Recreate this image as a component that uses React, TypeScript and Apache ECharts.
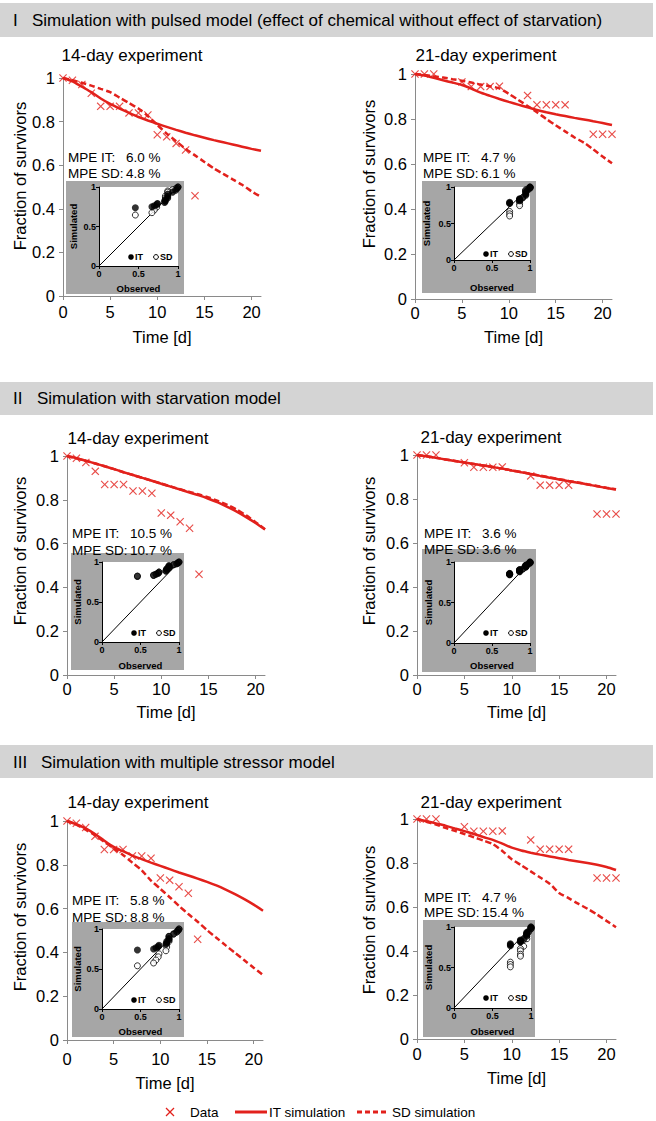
import { useEffect, useRef } from "react";
import * as echarts from "echarts";

const FONT = '"Liberation Sans", Arial, Helvetica, sans-serif';
const RED = "#e2211c";
const AXIS = "#8a8a8a";
const BAND = "#d4d4d4";
const INSET_BG = "#a6a6a6";

// ---------- data ----------
const DAYS = [0, 1, 2, 3, 4, 5, 6, 7, 8, 9, 10, 11, 12, 13, 14, 15, 16, 17, 18, 19, 20, 21];

const T14 = [0, 1, 2, 3, 4, 5, 6, 7, 8, 9, 10, 11, 12, 13, 14];
const OBS14 = [1.0, 0.99, 0.97, 0.93, 0.87, 0.87, 0.87, 0.84, 0.84, 0.83, 0.74, 0.73, 0.7, 0.67, 0.46];

const T21 = [0, 1, 2, 5, 6, 7, 8, 9, 12, 13, 14, 15, 16, 19, 20, 21];
const OBS21 = [1.0, 1.0, 1.0, 0.965, 0.944, 0.944, 0.944, 0.946, 0.905, 0.863, 0.863, 0.863, 0.863, 0.732, 0.732, 0.732];

// I: pulsed model
const IT_I_14 = [1.0, 0.985, 0.96, 0.935, 0.906, 0.881, 0.86, 0.84, 0.821, 0.805, 0.79, 0.776, 0.762, 0.749, 0.737, 0.726, 0.715, 0.705, 0.695, 0.685, 0.675, 0.666];
const SD_I_14 = [1.0, 0.99, 0.978, 0.965, 0.95, 0.935, 0.91, 0.885, 0.86, 0.825, 0.785, 0.745, 0.71, 0.675, 0.645, 0.615, 0.585, 0.56, 0.535, 0.51, 0.48, 0.455];
const IT_I_21 = [1.0, 0.993, 0.983, 0.972, 0.962, 0.951, 0.935, 0.917, 0.903, 0.889, 0.876, 0.864, 0.852, 0.84, 0.83, 0.821, 0.813, 0.805, 0.798, 0.79, 0.782, 0.773];
const SD_I_21 = [1.0, 0.996, 0.99, 0.984, 0.977, 0.97, 0.962, 0.953, 0.946, 0.936, 0.912, 0.885, 0.858, 0.83, 0.8, 0.772, 0.745, 0.718, 0.695, 0.665, 0.633, 0.603];

// II: starvation model
const IT_II_14 = [1.0, 0.99, 0.978, 0.966, 0.953, 0.94, 0.926, 0.913, 0.9, 0.887, 0.873, 0.86, 0.847, 0.833, 0.82, 0.805, 0.788, 0.768, 0.746, 0.721, 0.694, 0.664];
const SD_II_14 = [1.0, 0.99, 0.978, 0.966, 0.953, 0.94, 0.926, 0.913, 0.9, 0.887, 0.874, 0.861, 0.848, 0.836, 0.824, 0.811, 0.795, 0.777, 0.755, 0.729, 0.698, 0.666];
const IT_II_21 = [1.0, 0.994, 0.987, 0.98, 0.973, 0.966, 0.959, 0.952, 0.945, 0.938, 0.93, 0.922, 0.914, 0.905, 0.897, 0.889, 0.881, 0.874, 0.866, 0.858, 0.85, 0.843];
const SD_II_21 = [1.0, 0.994, 0.987, 0.98, 0.973, 0.966, 0.959, 0.952, 0.945, 0.938, 0.93, 0.922, 0.914, 0.906, 0.898, 0.89, 0.882, 0.875, 0.867, 0.859, 0.851, 0.844];

// III: multiple stressor model
const IT_III_14 = [1.0, 0.985, 0.966, 0.94, 0.91, 0.882, 0.862, 0.842, 0.826, 0.81, 0.795, 0.78, 0.765, 0.751, 0.737, 0.722, 0.706, 0.687, 0.666, 0.643, 0.618, 0.59];
const SD_III_14 = [1.0, 0.983, 0.96, 0.935, 0.905, 0.875, 0.845, 0.81, 0.775, 0.728, 0.69, 0.652, 0.612, 0.575, 0.54, 0.502, 0.467, 0.432, 0.398, 0.364, 0.33, 0.297];
const IT_III_21 = [1.0, 0.99, 0.98, 0.97, 0.957, 0.945, 0.932, 0.918, 0.905, 0.888, 0.87, 0.857, 0.847, 0.838, 0.83, 0.822, 0.814, 0.807, 0.8, 0.792, 0.782, 0.768];
const SD_III_21 = [1.0, 0.987, 0.975, 0.96, 0.946, 0.932, 0.917, 0.902, 0.886, 0.855, 0.817, 0.79, 0.762, 0.734, 0.706, 0.664, 0.64, 0.615, 0.592, 0.566, 0.537, 0.508];

const SECTION_NUMERALS = ["I", "II", "III"];
const SECTION_TITLES = [
  "Simulation with pulsed model (effect of chemical without effect of starvation)",
  "Simulation with starvation model",
  "Simulation with multiple stressor model",
];
const EXPERIMENT_TITLES = ["14-day experiment", "21-day experiment", "14-day experiment", "21-day experiment", "14-day experiment", "21-day experiment"];
const MPE_IT = ["6.0 %", "4.7 %", "10.5 %", "3.6 %", "5.8 %", "4.7 %"];
const MPE_SD = ["4.8 %", "6.1 %", "10.7 %", "3.6 %", "8.8 %", "15.4 %"];
const X_TICKS = [0, 5, 10, 15, 20];
const DIAGONAL = [[0, 0], [1, 1]];

const PANEL_DATA = [
  { t: T14, obs: OBS14, it: IT_I_14, sd: SD_I_14 },
  { t: T21, obs: OBS21, it: IT_I_21, sd: SD_I_21 },
  { t: T14, obs: OBS14, it: IT_II_14, sd: SD_II_14 },
  { t: T21, obs: OBS21, it: IT_II_21, sd: SD_II_21 },
  { t: T14, obs: OBS14, it: IT_III_14, sd: SD_III_14 },
  { t: T21, obs: OBS21, it: IT_III_21, sd: SD_III_21 },
];

// ---------- layout ----------
const SECTION_LAYOUT = [
  { band: [0, 3, 653, 34], textY: 20, numX: 13, titleX: 32 },
  { band: [0, 382, 653, 33], textY: 398, numX: 13, titleX: 37 },
  { band: [0, 745, 653, 33], textY: 762, numX: 13, titleX: 41 },
];

const PANEL_LAYOUT = [
  { grid: [63, 78, 198, 218], xLabelMargin: 7, xNameGap: 32, yName: [20, 176], title: [132, 55], mpe: [68, 157, 173], box: [66, 181, 118, 113], inset: [99, 187, 79, 79], legDy: 9, obsGap: 17, simGap: 21 },
  { grid: [415, 74, 197, 225], xLabelMargin: 5, xNameGap: 29, yName: [369, 174], title: [486, 55], mpe: [423, 157, 173], box: [422, 181, 114, 112], inset: [454, 187, 76, 73], legDy: 6, obsGap: 22, simGap: 23 },
  { grid: [67, 456, 198, 219], xLabelMargin: 5, xNameGap: 28, yName: [20, 551], title: [138, 438], mpe: [72, 533, 550], box: [71, 553, 113, 117], inset: [102, 562, 77, 80], legDy: 9, obsGap: 18, simGap: 20 },
  { grid: [417, 455, 199, 220], xLabelMargin: 5, xNameGap: 28, yName: [369, 551], title: [491, 437], mpe: [424, 533, 549], box: [422, 549, 114, 123], inset: [454, 562, 76, 81], legDy: 10, obsGap: 17, simGap: 21 },
  { grid: [67, 821, 196, 219], xLabelMargin: 10, xNameGap: 34, yName: [20, 917], title: [138, 802], mpe: [72, 900, 917], box: [72, 922, 112, 115], inset: [102, 929, 77, 80], legDy: 9, obsGap: 17, simGap: 20 },
  { grid: [417, 819, 199, 220], xLabelMargin: 6, xNameGap: 30, yName: [369, 920], title: [491, 802], mpe: [424, 897, 912], box: [423, 920, 112, 117], inset: [454, 927, 77, 81], legDy: 10, obsGap: 18, simGap: 21 },
];

const X_PATH = "path://M0,1L1,0L5,4L9,0L10,1L6,5L10,9L9,10L5,6L1,10L0,9L4,5Z";

function txt(s: string, x: number, y: number, size: number, align = "left", weight = "normal", extra: any = {}) {
  return {
    type: "text",
    x,
    y,
    z: 20,
    silent: true,
    ...extra,
    style: {
      text: s,
      fontSize: size,
      fontFamily: FONT,
      fontWeight: weight,
      fill: "#000",
      align,
      verticalAlign: "middle",
      textAlign: align,
      textVerticalAlign: "middle",
    },
  };
}

function buildOption() {
  const grid: any[] = [];
  const xAxis: any[] = [];
  const yAxis: any[] = [];
  const series: any[] = [];
  const graphic: any[] = [];

  SECTION_LAYOUT.forEach((s, i) => {
    graphic.push({
      type: "rect",
      z: 0,
      silent: true,
      shape: { x: s.band[0], y: s.band[1], width: s.band[2], height: s.band[3] },
      style: { fill: BAND },
    });
    graphic.push(txt(SECTION_NUMERALS[i], s.numX, s.textY, 17));
    graphic.push(txt(SECTION_TITLES[i], s.titleX, s.textY, 17));
  });

  PANEL_LAYOUT.forEach((L, i) => {
    const D = PANEL_DATA[i];

    // main plot
    const main = grid.length;
    grid.push({ left: L.grid[0], top: L.grid[1], width: L.grid[2], height: L.grid[3] });
    xAxis.push({
      gridIndex: main,
      type: "value",
      min: 0,
      max: 21,
      interval: 5,
      name: "Time [d]",
      nameLocation: "middle",
      nameGap: L.xNameGap,
      nameTextStyle: { fontSize: 16.5, color: "#000", fontFamily: FONT },
      axisLine: { show: true, lineStyle: { color: AXIS, width: 1 } },
      axisTick: { show: true, length: 4, customValues: X_TICKS, lineStyle: { color: AXIS } },
      axisLabel: { customValues: X_TICKS, fontSize: 16.5, color: "#000", margin: L.xLabelMargin, fontFamily: FONT },
      splitLine: { show: false },
    });
    yAxis.push({
      gridIndex: main,
      type: "value",
      min: 0,
      max: 1,
      interval: 0.2,
      axisLine: { show: true, lineStyle: { color: AXIS, width: 1 } },
      axisTick: { show: true, length: 4, lineStyle: { color: AXIS } },
      axisLabel: { fontSize: 16.5, color: "#000", margin: 8, fontFamily: FONT },
      splitLine: { show: false },
    });
    series.push({
      type: "line",
      name: "IT simulation",
      xAxisIndex: main,
      yAxisIndex: main,
      data: DAYS.map((d, k) => [d, D.it[k]]),
      symbol: "none",
      showSymbol: false,
      smooth: 0.25,
      lineStyle: { color: RED, width: 2.5 },
      itemStyle: { color: RED },
      z: 3,
    });
    series.push({
      type: "line",
      name: "SD simulation",
      xAxisIndex: main,
      yAxisIndex: main,
      data: DAYS.map((d, k) => [d, D.sd[k]]),
      symbol: "none",
      showSymbol: false,
      smooth: 0.25,
      lineStyle: { color: RED, width: 2.5, type: [6, 3] },
      itemStyle: { color: RED },
      z: 3,
    });
    series.push({
      type: "scatter",
      name: "Data",
      xAxisIndex: main,
      yAxisIndex: main,
      data: D.t.map((d, k) => [d, D.obs[k]]),
      symbol: X_PATH,
      symbolSize: 8,
      itemStyle: { color: RED },
      z: 4,
    });

    // inset box
    graphic.push({
      type: "rect",
      z: 5,
      silent: true,
      shape: { x: L.box[0], y: L.box[1], width: L.box[2], height: L.box[3] },
      style: { fill: INSET_BG },
    });

    // inset plot
    const ins = grid.length;
    grid.push({
      left: L.inset[0],
      top: L.inset[1],
      width: L.inset[2],
      height: L.inset[3],
      show: true,
      backgroundColor: "#fff",
      borderWidth: 0,
      z: 6,
    });
    const insetAxis = (name: string, gap: number) => ({
      gridIndex: ins,
      type: "value",
      min: 0,
      max: 1,
      interval: 0.5,
      z: 7,
      name,
      nameLocation: "middle",
      nameGap: gap,
      nameTextStyle: { fontSize: 9.5, fontWeight: "bold", color: "#000", fontFamily: FONT },
      axisLine: { show: true, lineStyle: { color: "#000", width: 1 } },
      axisTick: { show: true, length: 3, lineStyle: { color: "#000" } },
      axisLabel: { fontSize: 9, fontWeight: "bold", color: "#000", margin: 3, fontFamily: FONT },
      splitLine: { show: false },
    });
    xAxis.push(insetAxis("Observed", L.obsGap));
    yAxis.push(insetAxis("Simulated", L.simGap));
    series.push({
      type: "line",
      name: "1:1",
      xAxisIndex: ins,
      yAxisIndex: ins,
      data: DIAGONAL,
      symbol: "none",
      lineStyle: { color: "#000", width: 1 },
      silent: true,
      z: 8,
    });
    series.push({
      type: "scatter",
      name: "SD",
      xAxisIndex: ins,
      yAxisIndex: ins,
      data: D.t.map((d, k) => [D.obs[k], D.sd[d]]),
      symbol: "circle",
      symbolSize: 6,
      itemStyle: { color: "#fff", borderColor: "#000", borderWidth: 1 },
      z: 9,
    });
    series.push({
      type: "scatter",
      name: "IT",
      xAxisIndex: ins,
      yAxisIndex: ins,
      data: D.t.map((d, k) => [D.obs[k], D.it[d]]),
      symbol: "circle",
      symbolSize: 7,
      itemStyle: { color: "#000" },
      z: 10,
    });

    // inset legend
    const lx = L.inset[0];
    const ly = L.inset[1] + L.inset[3] - L.legDy;
    graphic.push({ type: "circle", z: 20, silent: true, shape: { cx: lx + 32, cy: ly, r: 2.8 }, style: { fill: "#000" } });
    graphic.push(txt("IT", lx + 36, ly, 9, "left", "bold"));
    graphic.push({ type: "circle", z: 20, silent: true, shape: { cx: lx + 57, cy: ly, r: 2.4 }, style: { fill: "#fff", stroke: "#000", lineWidth: 1 } });
    graphic.push(txt("SD", lx + 61, ly, 9, "left", "bold"));

    // texts
    graphic.push(txt(EXPERIMENT_TITLES[i], L.title[0], L.title[1], 17, "center"));
    graphic.push(txt("Fraction of survivors", L.yName[0], L.yName[1], 16.5, "center", "normal", { rotation: Math.PI / 2 }));
    graphic.push(txt("MPE IT:", L.mpe[0], L.mpe[1], 13.5));
    graphic.push(txt(MPE_IT[i], L.mpe[0] + 58, L.mpe[1], 13.5));
    graphic.push(txt("MPE SD:", L.mpe[0], L.mpe[2], 13.5));
    graphic.push(txt(MPE_SD[i], L.mpe[0] + 58, L.mpe[2], 13.5));
  });

  // bottom legend
  const LY = 1112;
  graphic.push({ type: "line", z: 20, silent: true, shape: { x1: 166, y1: LY - 4, x2: 174, y2: LY + 4 }, style: { stroke: RED, lineWidth: 1.2 } });
  graphic.push({ type: "line", z: 20, silent: true, shape: { x1: 174, y1: LY - 4, x2: 166, y2: LY + 4 }, style: { stroke: RED, lineWidth: 1.2 } });
  graphic.push(txt("Data", 190, LY, 13.5));
  graphic.push({ type: "line", z: 20, silent: true, shape: { x1: 235, y1: LY, x2: 267, y2: LY }, style: { stroke: RED, lineWidth: 3 } });
  graphic.push(txt("IT simulation", 269, LY, 13.5));
  graphic.push({ type: "line", z: 20, silent: true, shape: { x1: 357, y1: LY, x2: 389, y2: LY }, style: { stroke: RED, lineWidth: 3, lineDash: [5, 3] } });
  graphic.push(txt("SD simulation", 392, LY, 13.5));

  return {
    animation: false,
    backgroundColor: "#fff",
    textStyle: { fontFamily: FONT },
    grid,
    xAxis,
    yAxis,
    series,
    graphic: { elements: graphic },
  };
}

export default function App() {
  const ref = useRef<HTMLDivElement>(null);
  useEffect(() => {
    document.body.style.margin = "0";
    const chart = echarts.init(ref.current as HTMLDivElement, null, { renderer: "svg" });
    chart.setOption(buildOption() as any);
    return () => chart.dispose();
  }, []);
  return <div ref={ref} style={{ width: 656, height: 1121 }} />;
}
